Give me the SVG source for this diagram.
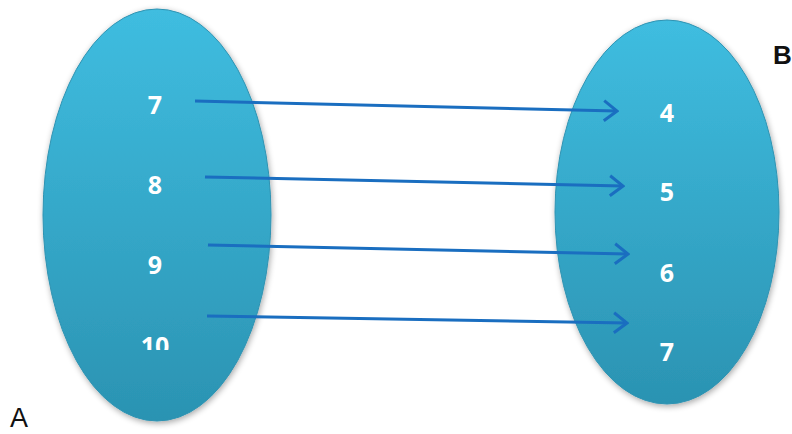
<svg xmlns="http://www.w3.org/2000/svg" width="792" height="434" viewBox="0 0 792 434">
  <defs>
    <linearGradient id="fill" x1="0" y1="0" x2="0" y2="1">
      <stop offset="0" stop-color="#3fbde0"/>
      <stop offset="1" stop-color="#2b93b2"/>
    </linearGradient>
    <filter id="shadow" x="-10%" y="-10%" width="120%" height="120%">
      <feGaussianBlur in="SourceAlpha" stdDeviation="3"/>
      <feOffset dx="1" dy="2"/>
      <feComponentTransfer><feFuncA type="linear" slope="0.35"/></feComponentTransfer>
      <feMerge><feMergeNode/><feMergeNode in="SourceGraphic"/></feMerge>
    </filter>
    <marker id="arrow" viewBox="0 0 18 24" refX="16" refY="12" markerWidth="18" markerHeight="24" markerUnits="userSpaceOnUse" orient="auto">
      <path d="M3 2 L16 12 L3 22" fill="none" stroke="#1a6ec0" stroke-width="3"/>
    </marker>
    <clipPath id="clip10"><rect x="120" y="300" width="80" height="50"/></clipPath>
  </defs>
  <style>
    .set { fill: url(#fill); stroke: #2f93b2; stroke-width: 1; filter: url(#shadow); }
    .num { font-family: "Open Sans", "Liberation Sans", sans-serif; font-weight: bold; font-size: 25px; fill: #ffffff; text-anchor: middle; }
    .conn { stroke: #1a6ec0; stroke-width: 3; fill: none; marker-end: url(#arrow); }
  </style>
  <g id="setA">
    <ellipse class="set" cx="157" cy="215" rx="114" ry="206"/>
    <text class="num" x="155" y="114">7</text>
    <text class="num" x="155" y="194">8</text>
    <text class="num" x="155" y="274">9</text>
    <text class="num" x="155" y="355" clip-path="url(#clip10)">10</text>
  </g>
  <g id="setB">
    <ellipse class="set" cx="667" cy="212" rx="112" ry="192"/>
    <text class="num" x="667" y="122">4</text>
    <text class="num" x="667" y="201">5</text>
    <text class="num" x="667" y="282">6</text>
    <text class="num" x="667" y="361">7</text>
  </g>
  <g id="connectors">
    <line class="conn" x1="195" y1="101" x2="617" y2="111"/>
    <line class="conn" x1="205" y1="177" x2="623" y2="186"/>
    <line class="conn" x1="208" y1="245" x2="628" y2="254"/>
    <line class="conn" x1="207" y1="316" x2="627" y2="323"/>
  </g>
  <g id="labelA">
    <text x="10" y="427" font-family="Liberation Sans, sans-serif" font-size="27" fill="#111">A</text>
  </g>
  <g id="labelB">
    <text x="773" y="64" font-family="Liberation Sans, sans-serif" font-weight="bold" font-size="26" fill="#111">B</text>
  </g>
</svg>
